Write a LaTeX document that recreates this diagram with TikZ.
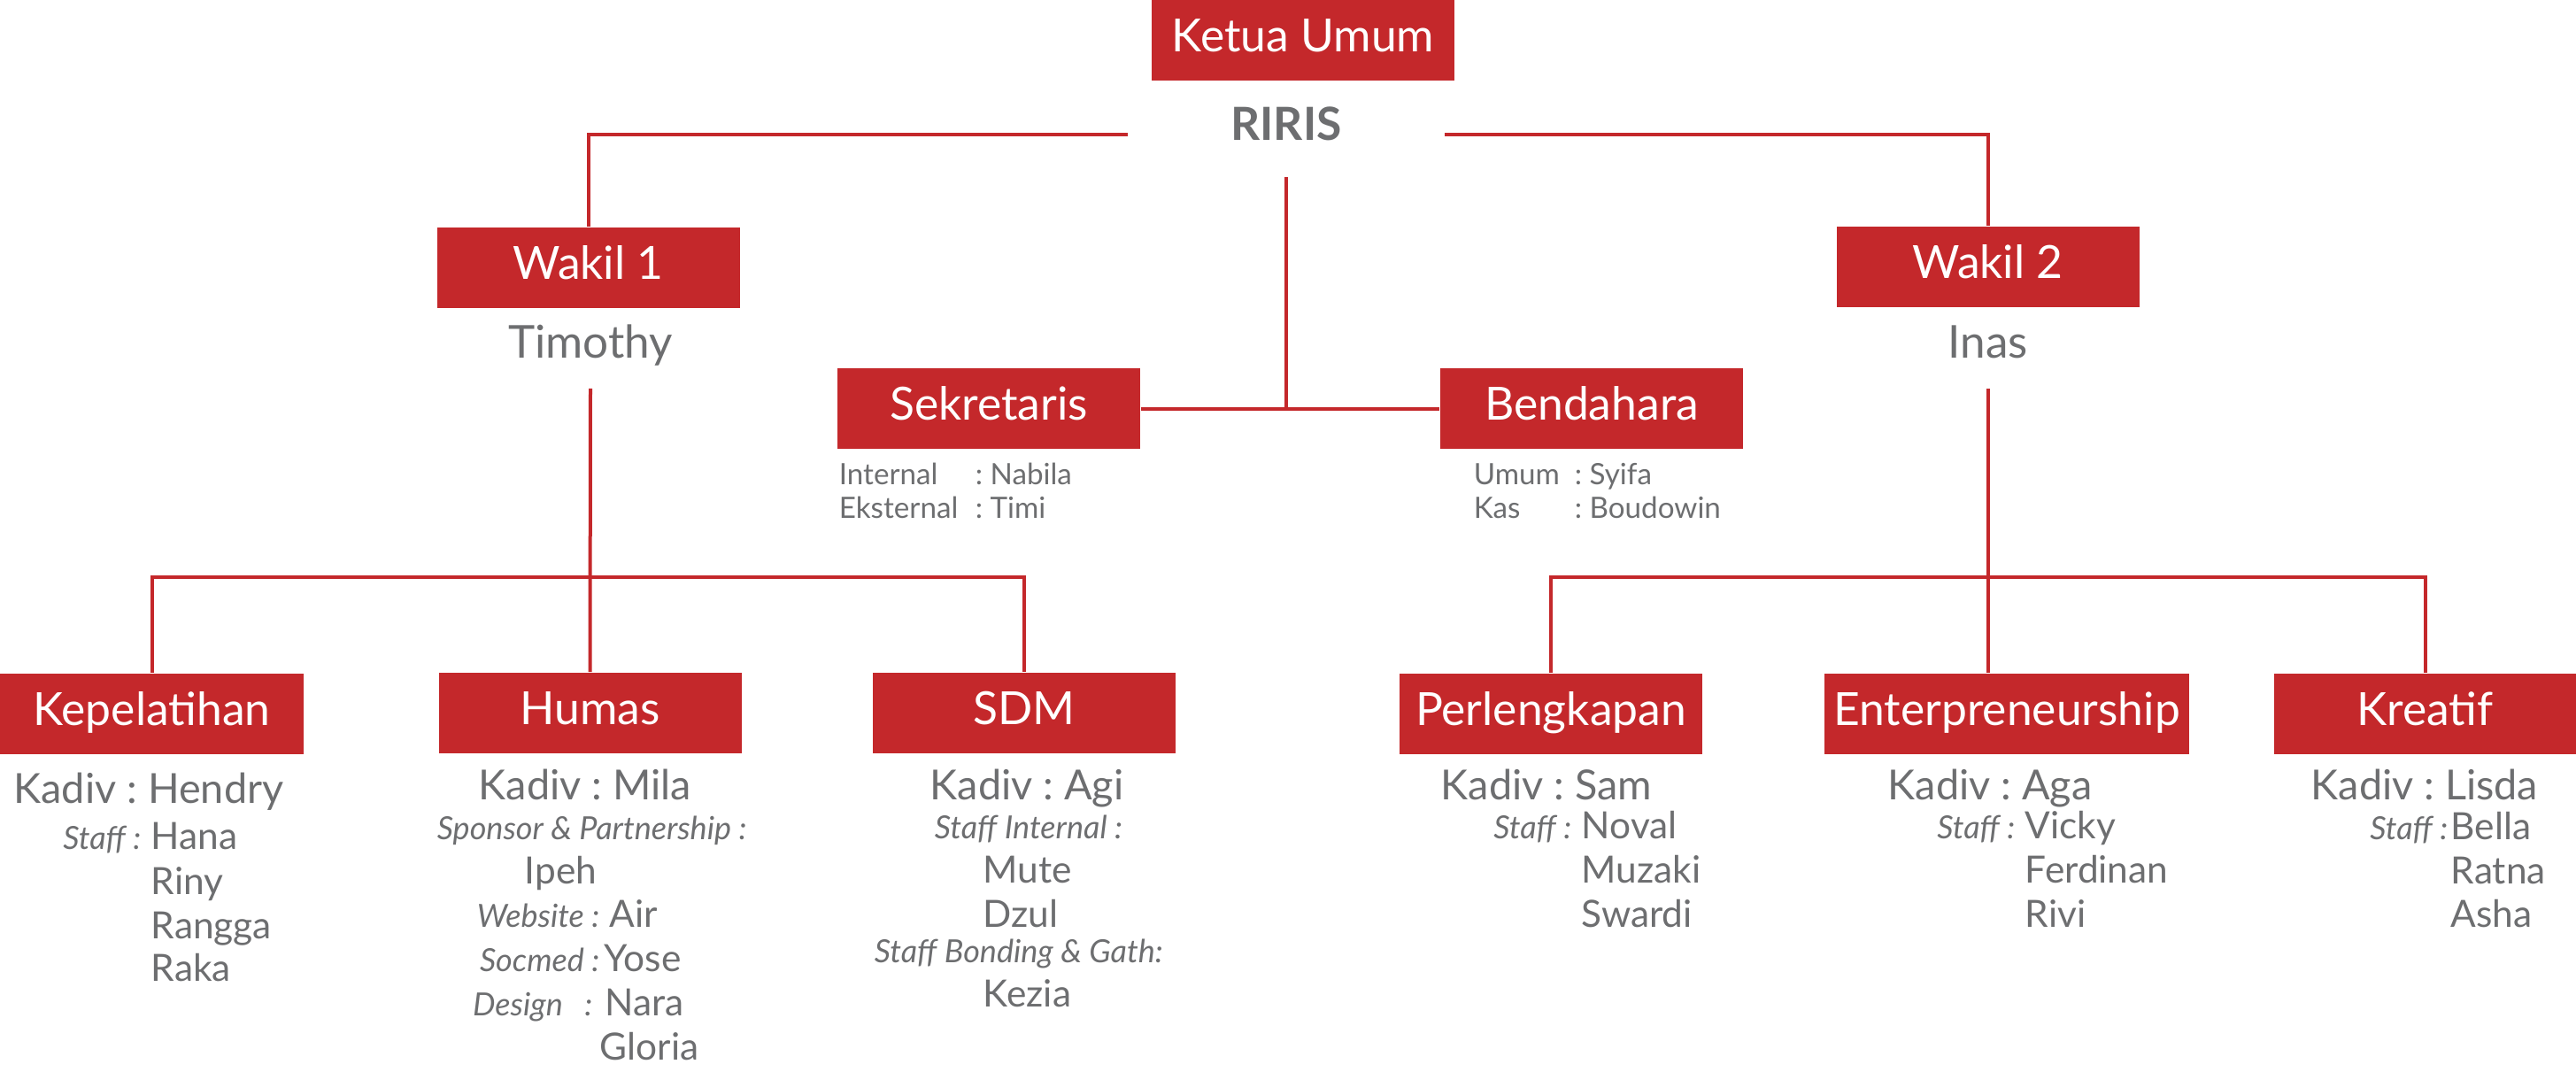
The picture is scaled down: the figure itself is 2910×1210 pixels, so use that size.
\documentclass[tikz,border=0pt]{standalone}
\usepackage{fontspec}
\setmainfont{Lato}
\usetikzlibrary{calc}
\definecolor{cred}{RGB}{196,40,43}
\definecolor{cgray}{RGB}{109,110,112}
\frenchspacing
\begin{document}
\begin{tikzpicture}[x=0.25pt,y=-0.25pt,
  box/.style={fill=cred,text=white,inner sep=0pt,minimum width=85.5pt,minimum height=22.75pt,
    text height=9.25pt,text depth=2.75pt,font=\fontsize{12.9}{14}\selectfont},
  conn/.style={draw=cred,line width=1pt},
  person/.style={text=cgray,inner xsep=0pt,inner ysep=8.5pt,text depth=0pt,anchor=base,font=\fontsize{12.8}{14}\selectfont},
  kadiv/.style={text=cgray,inner sep=0pt,anchor=base west,font=\fontsize{11.7}{13}\selectfont},
  nm/.style={text=cgray,inner sep=0pt,anchor=base west,font=\fontsize{10.6}{12}\selectfont},
  lbl/.style={text=cgray,inner sep=0pt,anchor=base west,font=\fontsize{9}{10}\selectfont\itshape},
  lble/.style={lbl,anchor=base east},
  info/.style={text=cgray,inner sep=0pt,anchor=base west,font=\fontsize{8.3}{10}\selectfont},
]
\useasboundingbox (0,0) rectangle (2910,1210);

% top level
\node[box] (ketua) at (1472,45.5) {Ketua Umum};
\node[text=cgray,font=\fontsize{12.9}{14}\selectfont\bfseries,minimum width=89pt,minimum height=29.5pt,inner sep=0pt] (riris) at (1453,140) {RIRIS};

\node[box] (w1) at (664.5,302.5) {Wakil 1};
\node[box] (w2) at (2245.5,301.5) {Wakil 2};
\node[person] (tim) at (667,404) {Timothy};
\node[person] (inas) at (2246,404) {Inas};

\node[box] (sek) at (1117,461.5) {Sekretaris};
\node[box] (bend) at (1798,461.5) {Bendahara};
\node[info] (sek1) at (947,547) {\makebox[38.5pt][l]{Internal}: Nabila};
\node[info] (sek2) at (947,585) {\makebox[38.5pt][l]{Eksternal}: Timi};
\node[info] (bend1) at (1664,547) {\makebox[28.5pt][l]{Umum}: Syifa};
\node[info] (bend2) at (1664,585) {\makebox[28.5pt][l]{Kas}: Boudowin};

% divisions
\node[box,minimum width=85.75pt] (kep) at (171.5,806) {Kepelatihan};
\node[box] (hum) at (666.5,805.5) {Humas};
\node[box] (sdm) at (1157,805.5) {SDM};
\node[box] (perl) at (1752,806) {Perlengkapan};
\node[box,minimum width=103pt] (ent) at (2267,806) {Enterpreneurship};
\node[box,minimum width=85.25pt] (kre) at (2739.5,806) {Kreatif};

% connectors
\draw[conn] ([yshift=-3pt]riris.west) -| (w1.north);
\draw[conn] ([yshift=-3pt]riris.east) -| (w2.north);
\draw[conn] (riris.south) -- (riris.south |- sek.east);
\draw[conn] (sek.east) -- (bend.west);
\draw[conn] (tim.south) -- (hum.north);
\draw[conn] (kep.north) -- ++(0,-108) -| (sdm.north);
\draw[conn] (inas.south) -- (inas.south |- ent.north);
\draw[conn] (perl.north) -- ++(0,-108) -| (kre.north);

% Kepelatihan
\node[kadiv] (kep-k) at (15,907) {Kadiv : Hendry};
\node[lble] (kep-s) at (160,959) {Staff :};
\node[nm] (kep-n1) at (170,959) {Hana};
\node[nm] (kep-n2) at (170,1010) {Riny};
\node[nm] (kep-n3) at (170,1060) {Rangga};
\node[nm] (kep-n4) at (170,1108) {Raka};

% Humas
\node[kadiv] (hum-k) at (540,903) {Kadiv : Mila};
\node[lbl] (hum-sp) at (493,948) {Sponsor \& Partnership :};
\node[nm] (hum-n1) at (592,998) {Ipeh};
\node[lble] (hum-wl) at (678,1047) {Website :};
\node[nm] (hum-n2) at (688,1047) {Air};
\node[lble] (hum-sl) at (678,1097) {Socmed :};
\node[nm] (hum-n3) at (682,1097) {Yose};
\node[lble] (hum-dl) at (670,1147) {Design\hspace{4pt} :};
\node[nm] (hum-n4) at (683,1147) {Nara};
\node[nm] (hum-n5) at (677,1197) {Gloria};

% SDM
\node[kadiv] (sdm-k) at (1050,903) {Kadiv : Agi};
\node[lbl] (sdm-si) at (1055,947) {Staff Internal :};
\node[nm] (sdm-n1) at (1110,997) {Mute};
\node[nm] (sdm-n2) at (1110,1047) {Dzul};
\node[lbl] (sdm-sb) at (987,1087) {Staff Bonding \& Gath:};
\node[nm] (sdm-n3) at (1110,1137) {Kezia};

% Perlengkapan
\node[kadiv] (perl-k) at (1627,903) {Kadiv : Sam};
\node[lble] (perl-s) at (1776,947) {Staff :};
\node[nm] (perl-n1) at (1786,947) {Noval};
\node[nm] (perl-n2) at (1786,997) {Muzaki};
\node[nm] (perl-n3) at (1786,1047) {Swardi};

% Enterpreneurship
\node[kadiv] (ent-k) at (2132,903) {Kadiv : Aga};
\node[lble] (ent-s) at (2277,947) {Staff :};
\node[nm] (ent-n1) at (2287,947) {Vicky};
\node[nm] (ent-n2) at (2287,997) {Ferdinan};
\node[nm] (ent-n3) at (2287,1047) {Rivi};

% Kreatif
\node[kadiv] (kre-k) at (2610,903) {Kadiv : Lisda};
\node[lble] (kre-s) at (2766,948) {Staff :};
\node[nm] (kre-n1) at (2768,948) {Bella};
\node[nm] (kre-n2) at (2768,998) {Ratna};
\node[nm] (kre-n3) at (2768,1047) {Asha};
\end{tikzpicture}
\end{document}
